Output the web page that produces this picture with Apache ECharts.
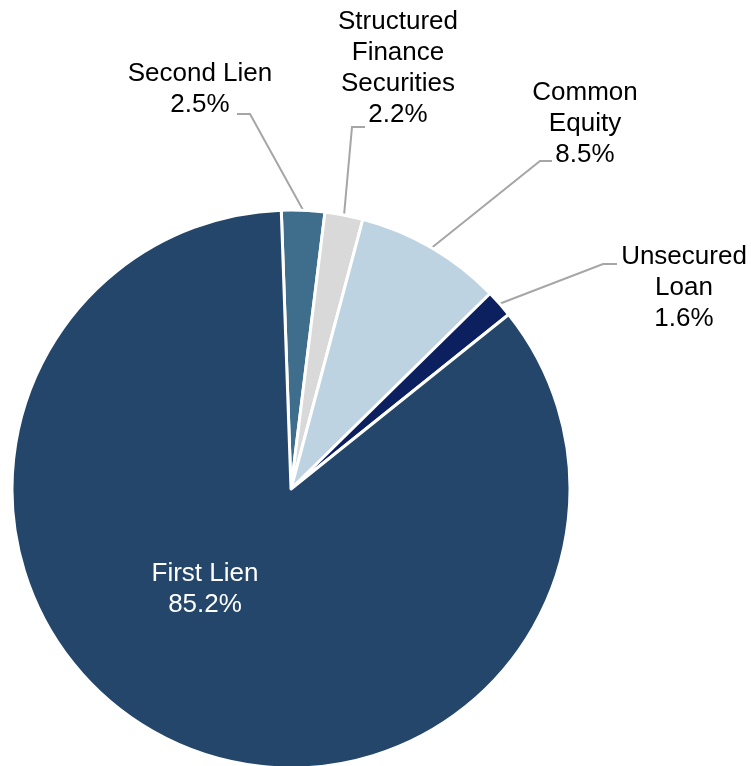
<!DOCTYPE html>
<html>
<head>
<meta charset="utf-8">
<script src="https://cdn.jsdelivr.net/npm/echarts@6/dist/echarts.min.js"></script>
<style>html,body{margin:0;padding:0;background:#fff}#c{width:751px;height:766px}</style>
</head>
<body>
<div id="c"></div>
<script>
var categories = ['Second Lien', 'Structured\nFinance\nSecurities', 'Common\nEquity', 'Unsecured\nLoan', 'First Lien'];
var values = [2.5, 2.2, 8.5, 1.6, 85.2];
var colors = ['#3f6e8c', '#d9d9d9', '#bdd3e2', '#0c2060', '#24466a'];

// label layout (centre of text block) and leader-line bends
var labelPos = [[200, 89], [398, 68], [585, 124], [684, 288], [205, 589]];
var bends = [[[250, 114], [237, 114]], [[352, 127], [365, 127]], [[540, 161], [552, 161]], [[603, 264], [617, 264]], null];

var chart = echarts.init(document.getElementById('c'));
var data = categories.map(function (n, i) {
  var d = { name: n, value: values[i], itemStyle: { color: colors[i] } };
  if (i === 4) {
    d.label = { position: 'inside', color: '#fff' };
    d.labelLine = { show: false };
  }
  return d;
});
chart.setOption({
  animation: false,
  series: [{
    type: 'pie',
    center: [291, 489],
    radius: [0, 279],
    startAngle: 92,
    clockwise: true,
    avoidLabelOverlap: false,
    itemStyle: { borderColor: '#fff', borderWidth: 3 },
    label: {
      show: true,
      position: 'outside',
      fontFamily: 'Liberation Sans, Arial, sans-serif',
      fontSize: 26,
      lineHeight: 31,
      color: '#000',
      align: 'center',
      formatter: function (p) { return p.name + '\n' + p.value.toFixed(1) + '%'; }
    },
    labelLine: { show: true, length: 20, length2: 20, lineStyle: { color: '#a6a6a6', width: 2 } },
    labelLayout: function (params) {
      var i = params.dataIndex;
      var res = { x: labelPos[i][0], y: labelPos[i][1], align: 'center', verticalAlign: 'middle' };
      if (bends[i] && params.labelLinePoints) {
        res.labelLinePoints = [params.labelLinePoints[0], bends[i][0], bends[i][1]];
      }
      return res;
    },
    data: data
  }]
});
</script>
</body>
</html>
